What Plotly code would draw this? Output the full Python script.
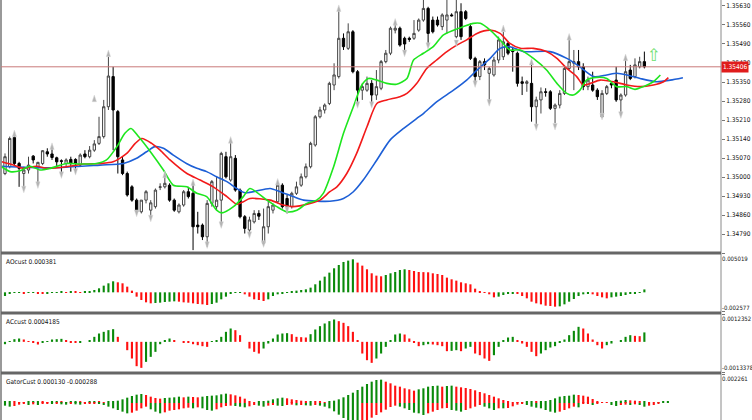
import plotly.graph_objects as go

# --- price bars ---
bars = list(range(137))

opens = [
    1.35013, 1.35038, 1.35146, 1.35050, 1.35013, 1.35026, 1.35077, 1.35038, 1.35050, 1.35093,
    1.35085, 1.35071, 1.35060, 1.35050, 1.35065, 1.35065, 1.35044, 1.35085, 1.35075, 1.35099,
    1.35124, 1.35149, 1.35259, 1.35370, 1.35241, 1.35063, 1.35013, 1.34964, 1.34915, 1.34872,
    1.34915, 1.34878, 1.34891, 1.34962, 1.34964, 1.34970, 1.34915, 1.34872, 1.34897, 1.34946,
    1.34940, 1.34823, 1.34823, 1.34780, 1.34903, 1.34891, 1.34915, 1.35075, 1.34989, 1.35069,
    1.34952, 1.34854, 1.34805, 1.34835, 1.34866, 1.34756, 1.34817, 1.34878, 1.34909, 1.34970,
    1.34921, 1.34891, 1.34940, 1.34970, 1.35001, 1.35038, 1.35118, 1.35222, 1.35247, 1.35271,
    1.35339, 1.35370, 1.35511, 1.35474, 1.35535, 1.35388, 1.35320, 1.35320, 1.35345, 1.35302,
    1.35327, 1.35425, 1.35456, 1.35541, 1.35548, 1.35511, 1.35511, 1.35511, 1.35541, 1.35578,
    1.35621, 1.35578, 1.35578, 1.35554, 1.35578, 1.35597, 1.35517, 1.35609, 1.35609, 1.35554,
    1.35437, 1.35370, 1.35425, 1.35382, 1.35376, 1.35431, 1.35443, 1.35492, 1.35468, 1.35456,
    1.35351, 1.35345, 1.35345, 1.35259, 1.35284, 1.35314, 1.35314, 1.35253, 1.35265, 1.35308,
    1.35400, 1.35419, 1.35425, 1.35406, 1.35333, 1.35339, 1.35320, 1.35222, 1.35308, 1.35345,
    1.35357, 1.35284, 1.35302, 1.35394, 1.35370, 1.35406, 1.35425,
]
highs = [
    1.35087, 1.35149, 1.35161, 1.35056, 1.35038, 1.35075, 1.35081, 1.35056, 1.35099, 1.35106,
    1.35112, 1.35075, 1.35065, 1.35069, 1.35075, 1.35069, 1.35087, 1.35099, 1.35114, 1.35136,
    1.35222, 1.35284, 1.35443, 1.35406, 1.35247, 1.35075, 1.35020, 1.34970, 1.34921, 1.34915,
    1.34952, 1.34915, 1.34958, 1.34977, 1.35001, 1.34977, 1.34921, 1.34903, 1.34952, 1.34964,
    1.34977, 1.34872, 1.34829, 1.34915, 1.34989, 1.35001, 1.35093, 1.35093, 1.35136, 1.35081,
    1.34958, 1.34860, 1.34854, 1.34878, 1.34878, 1.34884, 1.34915, 1.34903, 1.34983, 1.34977,
    1.34934, 1.34946, 1.34983, 1.35013, 1.35050, 1.35130, 1.35228, 1.35259, 1.35271, 1.35351,
    1.35419, 1.35615, 1.35529, 1.35566, 1.35541, 1.35394, 1.35345, 1.35370, 1.35357, 1.35394,
    1.35431, 1.35468, 1.35554, 1.35572, 1.35554, 1.35517, 1.35517, 1.35578, 1.35584, 1.35665,
    1.35627, 1.35591, 1.35591, 1.35603, 1.35665, 1.35603, 1.35665, 1.35640, 1.35615, 1.35566,
    1.35443, 1.35431, 1.35437, 1.35406, 1.35443, 1.35517, 1.35535, 1.35498, 1.35480, 1.35462,
    1.35370, 1.35357, 1.35419, 1.35296, 1.35330, 1.35327, 1.35320, 1.35271, 1.35320, 1.35406,
    1.35511, 1.35468, 1.35468, 1.35419, 1.35370, 1.35388, 1.35327, 1.35320, 1.35339, 1.35351,
    1.35406, 1.35308, 1.35431, 1.35413, 1.35437, 1.35443, 1.35462,
]
lows = [
    1.35007, 1.35032, 1.35044, 1.34964, 1.34958, 1.35013, 1.35050, 1.34977, 1.35044, 1.35075,
    1.35063, 1.35038, 1.35013, 1.35038, 1.35020, 1.35026, 1.35038, 1.35069, 1.35069, 1.35093,
    1.35118, 1.35142, 1.35247, 1.35099, 1.35013, 1.35007, 1.34928, 1.34909, 1.34866, 1.34866,
    1.34903, 1.34848, 1.34884, 1.34952, 1.34958, 1.34909, 1.34872, 1.34866, 1.34891, 1.34921,
    1.34731, 1.34792, 1.34768, 1.34743, 1.34891, 1.34878, 1.34829, 1.34995, 1.34983, 1.34946,
    1.34848, 1.34792, 1.34786, 1.34829, 1.34842, 1.34749, 1.34792, 1.34866, 1.34903, 1.34884,
    1.34866, 1.34884, 1.34934, 1.34964, 1.34995, 1.35032, 1.35112, 1.35216, 1.35234, 1.35265,
    1.35320, 1.35363, 1.35468, 1.35468, 1.35382, 1.35265, 1.35284, 1.35314, 1.35271, 1.35284,
    1.35320, 1.35419, 1.35449, 1.35529, 1.35480, 1.35456, 1.35498, 1.35505, 1.35535, 1.35572,
    1.35492, 1.35529, 1.35554, 1.35541, 1.35529, 1.35591, 1.35511, 1.35505, 1.35578, 1.35431,
    1.35351, 1.35357, 1.35394, 1.35277, 1.35370, 1.35419, 1.35431, 1.35449, 1.35388, 1.35333,
    1.35302, 1.35314, 1.35204, 1.35185, 1.35234, 1.35296, 1.35247, 1.35198, 1.35253, 1.35302,
    1.35394, 1.35320, 1.35394, 1.35320, 1.35320, 1.35314, 1.35284, 1.35220, 1.35302, 1.35327,
    1.35277, 1.35228, 1.35296, 1.35357, 1.35363, 1.35400, 1.35400,
]
closes = [
    1.35075, 1.35142, 1.35050, 1.35032, 1.35026, 1.35044, 1.35063, 1.35054, 1.35097, 1.35085,
    1.35072, 1.35056, 1.35058, 1.35063, 1.35050, 1.35050, 1.35081, 1.35075, 1.35099, 1.35122,
    1.35149, 1.35259, 1.35372, 1.35247, 1.35075, 1.35013, 1.34934, 1.34915, 1.34872, 1.34915,
    1.34946, 1.34905, 1.34952, 1.34964, 1.34977, 1.34915, 1.34878, 1.34897, 1.34946, 1.34928,
    1.34817, 1.34817, 1.34780, 1.34903, 1.34983, 1.34915, 1.35087, 1.35001, 1.35075, 1.34952,
    1.34854, 1.34811, 1.34842, 1.34866, 1.34856, 1.34817, 1.34891, 1.34897, 1.34970, 1.34891,
    1.34891, 1.34940, 1.34964, 1.35001, 1.35038, 1.35124, 1.35222, 1.35247, 1.35265, 1.35345,
    1.35376, 1.35511, 1.35480, 1.35535, 1.35388, 1.35320, 1.35333, 1.35345, 1.35302, 1.35333,
    1.35425, 1.35456, 1.35548, 1.35548, 1.35486, 1.35490, 1.35507, 1.35529, 1.35578, 1.35621,
    1.35529, 1.35535, 1.35560, 1.35597, 1.35597, 1.35594, 1.35609, 1.35517, 1.35584, 1.35437,
    1.35370, 1.35425, 1.35413, 1.35400, 1.35431, 1.35505, 1.35498, 1.35456, 1.35462, 1.35345,
    1.35345, 1.35351, 1.35259, 1.35284, 1.35314, 1.35312, 1.35253, 1.35265, 1.35308, 1.35400,
    1.35425, 1.35425, 1.35406, 1.35333, 1.35357, 1.35320, 1.35296, 1.35308, 1.35333, 1.35339,
    1.35284, 1.35302, 1.35388, 1.35363, 1.35413, 1.35425, 1.35406,
]
last_price = 1.35406

# alligator lines, read at points along the chart (bar position, price)
jaw_x = [-0.7, 9.6, 20.2, 25.2, 28.0, 30.1, 31.9, 33.7, 35.8, 38.6, 40.8, 42.9, 45.0, 47.2, 49.3,
         51.1, 56.4, 58.5, 61.3, 63.5, 69.1, 72.0, 74.1, 76.2, 79.1, 81.9, 84.8, 87.6, 89.0, 91.8,
         95.4, 98.2, 100.4, 103.2, 105.3, 107.4, 110.3, 115.9, 119.5, 122.3, 125.2, 128.0, 130.1,
         132.3, 135.1, 138.6, 141.5, 144.2]
jaw_y = [1.35040, 1.35034, 1.35044, 1.35050, 1.35069, 1.35093, 1.35112, 1.35106, 1.35081, 1.35050,
         1.35032, 1.35020, 1.35001, 1.34983, 1.34958, 1.34942, 1.34958, 1.34946, 1.34928, 1.34915,
         1.34911, 1.34921, 1.34946, 1.34989, 1.35063, 1.35136, 1.35179, 1.35216, 1.35234, 1.35277,
         1.35320, 1.35357, 1.35394, 1.35437, 1.35474, 1.35480, 1.35462, 1.35462, 1.35437, 1.35406,
         1.35370, 1.35376, 1.35382, 1.35376, 1.35363, 1.35351, 1.35357, 1.35366]

teeth_x = [-0.7, 1.8, 3.9, 6.7, 8.9, 13.1, 16.7, 20.2, 23.0, 25.9, 27.7, 29.1, 31.2, 33.0, 35.1,
           38.7, 41.5, 44.3, 47.2, 49.3, 50.7, 52.1, 56.4, 59.2, 61.3, 64.9, 67.0, 69.1, 70.6, 72.7,
           74.8, 77.0, 79.1, 81.2, 84.0, 85.5, 87.6, 89.7, 91.8, 94.0, 96.1, 98.2, 100.4, 103.2, 105.3,
           107.4, 109.6, 112.4, 115.2, 117.4, 119.5, 121.6, 123.0, 124.5, 126.6, 129.4, 132.3, 135.1,
           137.9, 140.1, 141.1]
teeth_y = [1.35056, 1.35044, 1.35032, 1.35040, 1.35032, 1.35038, 1.35048, 1.35050, 1.35056, 1.35087,
           1.35124, 1.35142, 1.35124, 1.35099, 1.35063, 1.35013, 1.34989, 1.34964, 1.34928, 1.34900,
           1.34909, 1.34921, 1.34915, 1.34897, 1.34891, 1.34903, 1.34915, 1.34946, 1.34964, 1.35013,
           1.35087, 1.35185, 1.35271, 1.35284, 1.35296, 1.35308, 1.35345, 1.35400, 1.35431, 1.35462,
           1.35486, 1.35505, 1.35529, 1.35541, 1.35529, 1.35492, 1.35474, 1.35474, 1.35462, 1.35437,
           1.35400, 1.35370, 1.35339, 1.35345, 1.35357, 1.35351, 1.35339, 1.35333, 1.35339, 1.35351,
           1.35366]

lips_x = [-0.7, 1.1, 3.2, 5.3, 7.4, 9.6, 13.1, 16.0, 19.5, 21.6, 23.8, 25.5, 26.8, 28.4, 31.2,
          33.7, 35.8, 38.7, 40.8, 42.9, 45.0, 46.1, 48.6, 50.7, 52.1, 55.7, 57.8, 59.9, 62.1, 64.2,
          66.3, 67.7, 69.9, 72.0, 74.1, 75.9, 77.3, 79.1, 81.2, 83.3, 85.5, 86.9, 89.0, 91.1, 93.2,
          95.4, 97.5, 99.6, 101.1, 103.2, 105.3, 107.4, 109.6, 112.4, 115.2, 117.4, 119.5, 120.9,
          122.3, 123.7, 125.9, 128.0, 130.1, 132.3, 134.0, 135.8, 137.9, 139.4]
lips_y = [1.35038, 1.35020, 1.35023, 1.35040, 1.35026, 1.35032, 1.35050, 1.35048, 1.35050, 1.35063,
          1.35112, 1.35161, 1.35179, 1.35149, 1.35087, 1.35026, 1.34970, 1.34964, 1.34940, 1.34928,
          1.34878, 1.34868, 1.34891, 1.34928, 1.34958, 1.34915, 1.34891, 1.34872, 1.34878, 1.34903,
          1.34915, 1.34940, 1.35038, 1.35161, 1.35259, 1.35339, 1.35363, 1.35357, 1.35345, 1.35342,
          1.35363, 1.35431, 1.35456, 1.35480, 1.35523, 1.35541, 1.35554, 1.35566, 1.35566, 1.35541,
          1.35505, 1.35468, 1.35468, 1.35437, 1.35394, 1.35345, 1.35308, 1.35302, 1.35320, 1.35357,
          1.35367, 1.35363, 1.35333, 1.35333, 1.35323, 1.35333, 1.35351, 1.35376]

# fractal arrows
frac_up_x = [2, 10, 19, 22, 34, 40, 48, 58, 71, 83, 106, 112, 120, 132]
frac_up_y = [1.35173, 1.35126, 1.35302, 1.35468, 1.35022, 1.34993, 1.35149, 1.34995, 1.35634,
             1.35584, 1.35560, 1.35437, 1.35529, 1.35453]
frac_dn_x = [4, 7, 12, 15, 28, 31, 43, 46, 52, 55, 60, 75, 78, 85, 90, 96, 100, 103, 113, 117, 127, 131]
frac_dn_y = [1.34942, 1.34958, 1.34995, 1.35007, 1.34854, 1.34835, 1.34737, 1.34811, 1.34774,
             1.34741, 1.34866, 1.35253, 1.35253, 1.35443, 1.35470, 1.35480, 1.35330, 1.35261,
             1.35171, 1.35173, 1.35210, 1.35216]

signal_x = [138]
signal_y = [1.35442]

# indicator windows
ao = [
    -0.000481, -0.000131, -0.000087, -0.000066, -0.000131, -0.000044, 0.000013, -0.000175, -0.000219, -0.000131,
    -0.000087, -0.000044, 0.000044, 0.000022, 0.000087, 0.000044, 0.000013, 0.000044, 0.000087, 0.000306,
    0.000524, 0.000874, 0.00118, 0.001442, 0.001311, 0.00118, 0.000743, 0.000219, -0.000568, -0.001005,
    -0.001311, -0.001442, -0.001398, -0.001355, -0.001267, -0.001224, -0.00118, -0.001224, -0.001311, -0.001355,
    -0.001442, -0.00153, -0.001573, -0.001661, -0.00153, -0.001355, -0.000918, -0.000568, -0.000219, -0.000087,
    -0.000044, -0.000262, -0.000568, -0.000918, -0.001005, -0.001136, -0.000918, -0.000481, -0.000262, -0.000131,
    -0.000044, 0.000087, 0.000219, 0.000306, 0.000393, 0.000612, 0.001049, 0.00153, 0.002054, 0.002578,
    0.003146, 0.003583, 0.003977, 0.004152, 0.004326, 0.003889, 0.003496, 0.003015, 0.002491, 0.002185,
    0.002098, 0.002272, 0.002491, 0.002666, 0.002928, 0.003015, 0.002928, 0.002797, 0.002666, 0.002644,
    0.002622, 0.002491, 0.002404, 0.002272, 0.001923, 0.001704, 0.00153, 0.001311, 0.00118, 0.001049,
    0.000481, 0.000087, -0.000044, -0.000262, -0.000656, -0.000568, -0.00035, -0.000219, -0.000131, -0.000175,
    -0.000481, -0.000787, -0.001224, -0.001442, -0.001573, -0.001748, -0.001792, -0.001879, -0.001835, -0.001573,
    -0.001224, -0.000874, -0.000481, -0.000262, -0.000175, -0.000262, -0.000481, -0.000656, -0.000787, -0.000656,
    -0.000568, -0.000481, -0.00035, -0.000219, -0.000131, 0.000022, 0.000381,
]
ac = [
    -0.000104, 0.00003, 0.000118, 0.000148, 0.000104, 0.00003, -0.000044, -0.000118, -0.000044, 0.00003,
    0.000104, 0.000118, 0.000133, 0.000074, -0.000015, -0.00003, -0.000015, 0.0, 0.000074, 0.000222,
    0.00037, 0.000444, 0.000518, 0.000562, 0.000222, 0.0, -0.00037, -0.00074, -0.00108, -0.001154,
    -0.000888, -0.000666, -0.000444, -0.000104, 0.000074, 0.000148, 0.000074, 0.0, -0.000015, -0.000044,
    -0.000104, -0.000148, -0.000192, -0.000222, 0.00003, 0.000074, 0.000222, 0.000444, 0.000592, 0.000518,
    0.000296, 0.0, -0.000296, -0.000444, -0.000518, -0.000296, -0.000074, 0.000148, 0.000326, 0.00037,
    0.000385, 0.00034, 0.000222, 0.000207, 0.000192, 0.00034, 0.000548, 0.000696, 0.000814, 0.000918,
    0.000992, 0.000918, 0.000844, 0.000696, 0.000444, 0.000074, -0.000518, -0.000814, -0.000932, -0.00074,
    -0.000518, -0.000222, 0.000074, 0.000326, 0.00037, 0.000326, 0.000148, -0.000044, -0.000192, -0.000148,
    -0.000104, -0.000118, -0.000148, -0.000192, -0.000414, -0.0004, -0.00037, -0.000414, -0.000296, -0.000222,
    -0.000518, -0.000592, -0.00074, -0.000844, -0.000592, -0.000222, 0.000074, 0.000192, 0.000222, 0.000074,
    -0.000074, -0.000222, -0.000444, -0.000636, -0.000518, -0.00037, -0.000252, -0.000192, -0.000044, 0.000104,
    0.000296, 0.000488, 0.000666, 0.000592, 0.00037, 0.000104, -0.000148, -0.000296, -0.000148, -0.000074,
    0.0, 0.000074, 0.000222, 0.000296, 0.000266, 0.000252, 0.0004185,
]
gator_bars = list(range(142))
gator_up = [
    0.00013, 0.000156, 0.000078, 0.000052, 0.000026, 0.000104, 0.00013, 0.000156, 0.000104, 0.000052,
    0.000078, 0.000104, 0.000078, 0.000052, 0.000078, 0.000104, 0.000078, 0.000052, 0.000078, 0.000104,
    0.000078, 0.000052, 0.000078, 0.00013, 0.000182, 0.000286, 0.000416, 0.000546, 0.00065, 0.000702,
    0.000624, 0.000494, 0.00039, 0.000338, 0.00039, 0.000416, 0.000442, 0.000494, 0.000442, 0.000494,
    0.000468, 0.000442, 0.000494, 0.000546, 0.000572, 0.000598, 0.000676, 0.000728, 0.000676, 0.000598,
    0.000494, 0.000338, 0.000156, 0.000052, 0.000078, 0.000104, 0.000182, 0.000286, 0.000364, 0.000416,
    0.000364, 0.000286, 0.000234, 0.000182, 0.00013, 0.000156, 0.000104, 0.000078, 0.000052, 0.000104,
    0.000182, 0.000286, 0.000442, 0.000624, 0.000806, 0.001014, 0.001274, 0.001482, 0.001664, 0.001794,
    0.00182, 0.001664, 0.001534, 0.001352, 0.001274, 0.001144, 0.001066, 0.000962, 0.001066, 0.001144,
    0.001274, 0.001326, 0.001352, 0.001274, 0.001326, 0.001352, 0.001274, 0.001222, 0.00117, 0.001092,
    0.000988, 0.000858, 0.000754, 0.000624, 0.000494, 0.000364, 0.000234, 0.000156, 0.000052, 0.000026,
    0.000052, 0.000104, 0.000104, 0.000078, 0.000104, 0.000156, 0.000234, 0.000364, 0.000494, 0.000546,
    0.000572, 0.00065, 0.000624, 0.000572, 0.000494, 0.000312, 0.00013, 0.000026, 0.000013, 0.000026,
    0.000104, 0.000182, 0.000234, 0.000208, 0.000182, 0.000104, 0.00013, 0.000052, 0.000026, 0.000052,
    0.000078, 0.000091,
]
gator_dn = [
    -0.000208, -0.000286, -0.000234, -0.00013, -0.000078, -0.000156, -0.000104, -0.000156, -0.000078, -0.000052,
    -0.000078, -0.000052, -0.000104, -0.00013, -0.000078, -0.000104, -0.00013, -0.000078, -0.000052, -0.000026,
    -0.000078, -0.000156, -0.000286, -0.000416, -0.000546, -0.000676, -0.000806, -0.000754, -0.000598, -0.000416,
    -0.000286, -0.000494, -0.000676, -0.000806, -0.000728, -0.000598, -0.000546, -0.000494, -0.000416, -0.000364,
    -0.000416, -0.000338, -0.000416, -0.000546, -0.000598, -0.000494, -0.000338, -0.000234, -0.000208, -0.000234,
    -0.000286, -0.000338, -0.00026, -0.000156, -0.000208, -0.000286, -0.000208, -0.000156, -0.000208, -0.000234,
    -0.000156, -0.00013, -0.000182, -0.000156, -0.000182, -0.000208, -0.000156, -0.000208, -0.000286, -0.000416,
    -0.00065, -0.00091, -0.00117, -0.00143, -0.001612, -0.001716, -0.00156, -0.001352, -0.001144, -0.000936,
    -0.000728, -0.00052, -0.000312, -0.000208, -0.000286, -0.000416, -0.000546, -0.000754, -0.000806, -0.000936,
    -0.000806, -0.000676, -0.000546, -0.000416, -0.00039, -0.000546, -0.000598, -0.000676, -0.000546, -0.000416,
    -0.000286, -0.000156, -0.000286, -0.000416, -0.000546, -0.000416, -0.000416, -0.00039, -0.00026, -0.00013,
    -0.000078, -0.000156, -0.000286, -0.000364, -0.000416, -0.000546, -0.000676, -0.000754, -0.000676, -0.000546,
    -0.000416, -0.000286, -0.000338, -0.000052, -0.000026, -0.000156, -0.000026, 0.0, 0.0, -0.000156,
    -0.000234, -0.000156, -0.00013, -0.000156, -0.000104, -0.000156, -0.000288, -0.000208, -0.000156, -0.000078,
    0.0, 0.0,
]

price_ticks = [1.34790, 1.34860, 1.34930, 1.35000, 1.35070, 1.35140, 1.35210,
               1.35280, 1.35350, 1.35420, 1.35490, 1.35560, 1.35630]
ao_range = [-0.002577, 0.005019]
ac_range = [-0.0013378, 0.0012352]
gator_top = 0.002261

GREEN = "#0a8a0a"
RED = "#ff1010"


def updown(vals, use_abs=False):
    # green when the bar grows against the previous one, red otherwise
    cols, prev = [], None
    for v in vals:
        cur = abs(v) if use_abs else v
        cols.append(GREEN if prev is None or cur >= prev else RED)
        prev = cur
    return cols


fig = go.Figure()

fig.add_trace(go.Candlestick(
    x=bars, open=opens, high=highs, low=lows, close=closes,
    increasing=dict(fillcolor="white", line=dict(color="#444444", width=1)),
    decreasing=dict(fillcolor="black", line=dict(color="black", width=1)),
    whiskerwidth=0, hoverinfo="skip",
))

for xs, ys, col in [(jaw_x, jaw_y, "#1d5fd6"), (teeth_x, teeth_y, "#f21a1a"), (lips_x, lips_y, "#1ee61e")]:
    fig.add_trace(go.Scatter(x=xs, y=ys, mode="lines", line=dict(color=col, width=1.6, shape="spline", smoothing=0.7),
                             hoverinfo="skip"))

fig.add_trace(go.Scatter(x=frac_up_x, y=frac_up_y, mode="markers",
                         marker=dict(symbol="arrow", angle=0, size=7, color="#b4b4b4",
                                     line=dict(color="#d8d8d8", width=0.5)), hoverinfo="skip"))
fig.add_trace(go.Scatter(x=frac_dn_x, y=frac_dn_y, mode="markers",
                         marker=dict(symbol="arrow", angle=180, size=7, color="#b4b4b4",
                                     line=dict(color="#d8d8d8", width=0.5)), hoverinfo="skip"))
fig.add_trace(go.Scatter(x=signal_x, y=signal_y, mode="text", text=["⇧"],
                         textfont=dict(family="DejaVu Sans", size=17, color="#6fe06f"), hoverinfo="skip"))

fig.add_trace(go.Bar(x=bars, y=ao, yaxis="y2", width=0.45,
                     marker=dict(color=updown(ao), line=dict(width=0)), hoverinfo="skip"))
fig.add_trace(go.Bar(x=bars, y=ac, yaxis="y3", width=0.45,
                     marker=dict(color=updown(ac), line=dict(width=0)), hoverinfo="skip"))
fig.add_trace(go.Bar(x=gator_bars, y=gator_up, yaxis="y4", width=0.45,
                     marker=dict(color=updown(gator_up, True), line=dict(width=0)), hoverinfo="skip"))
fig.add_trace(go.Bar(x=gator_bars, y=gator_dn, yaxis="y4", width=0.45,
                     marker=dict(color=updown(gator_dn, True), line=dict(width=0)), hoverinfo="skip"))

narrow = "Liberation Sans Narrow, DejaVu Sans Condensed, Liberation Sans"
small = dict(family=narrow, size=6.5, color="#111111")
sub_axis = dict(anchor="x", side="right", showgrid=False, zeroline=False, showticklabels=False,
                ticks="outside", ticklen=3, tickcolor="#777777", fixedrange=True)

fig.update_layout(
    width=752, height=420,
    margin=dict(l=1, r=31, t=0, b=0),
    paper_bgcolor="white", plot_bgcolor="white",
    showlegend=False, barmode="overlay",
    xaxis=dict(range=[-0.85, 152.3], visible=False, rangeslider=dict(visible=False), anchor="y"),
    yaxis=dict(domain=[0.4, 1], range=[1.34724, 1.35652], side="right",
               tickvals=price_ticks, ticktext=["%.5f" % v for v in price_ticks],
               ticks="outside", ticklen=3, tickcolor="#777777", tickfont=small,
               showgrid=False, zeroline=False),
    yaxis2=dict(sub_axis, domain=[0.25714, 0.39524], range=ao_range, tickvals=ao_range),
    yaxis3=dict(sub_axis, domain=[0.11429, 0.25238], range=ac_range, tickvals=ac_range),
    yaxis4=dict(sub_axis, domain=[0, 0.10952], range=[-0.001326, gator_top], tickvals=[gator_top]),
)

# frame lines, panel separators and the current price line
fig.add_shape(type="line", xref="paper", yref="paper", x0=0, x1=0, y0=0, y1=1,
              line=dict(color="#777777", width=1.5))
fig.add_shape(type="line", xref="paper", yref="paper", x0=1, x1=1, y0=0, y1=1,
              line=dict(color="#8a8a8a", width=1))
for sy in [0.3976, 0.2548, 0.1119]:
    fig.add_shape(type="line", xref="paper", yref="paper", x0=0, x1=1, y0=sy, y1=sy,
                  line=dict(color="#666666", width=3))
fig.add_shape(type="line", xref="paper", yref="y", x0=0, x1=1, y0=last_price, y1=last_price,
              line=dict(color="#c97a7a", width=1))

fig.add_annotation(xref="paper", yref="y", x=1, y=last_price, xanchor="left", yanchor="middle",
                   text="%.5f" % last_price, showarrow=False, bgcolor="#e01c1c", borderpad=1,
                   font=dict(family=narrow, size=6.5, color="white"))

labels = [
    ("AOcust 0.000381", 0.3905),
    ("ACcust 0.0004185", 0.2476),
    ("GatorCust 0.000130 -0.000288", 0.1048),
]
for txt, ly in labels:
    fig.add_annotation(xref="paper", yref="paper", x=0.004, y=ly, xanchor="left", yanchor="top",
                       text=txt, showarrow=False, font=small)

side_labels = [
    ("0.005019", 0.3952, "top"),
    ("-0.002577", 0.2571, "bottom"),
    ("0.0012352", 0.2524, "top"),
    ("-0.0013378", 0.1143, "bottom"),
    ("0.002261", 0.1095, "top"),
]
for txt, ly, anc in side_labels:
    fig.add_annotation(xref="paper", yref="paper", x=1, y=ly, xanchor="left", yanchor=anc, xshift=0,
                       text=txt, showarrow=False, font=dict(small, size=6), borderpad=0)

# the page's default body margin would push the chart off the window edge
fig.write_html("out.html", config={"displayModeBar": False},
               post_script="document.body.style.margin='0';")
